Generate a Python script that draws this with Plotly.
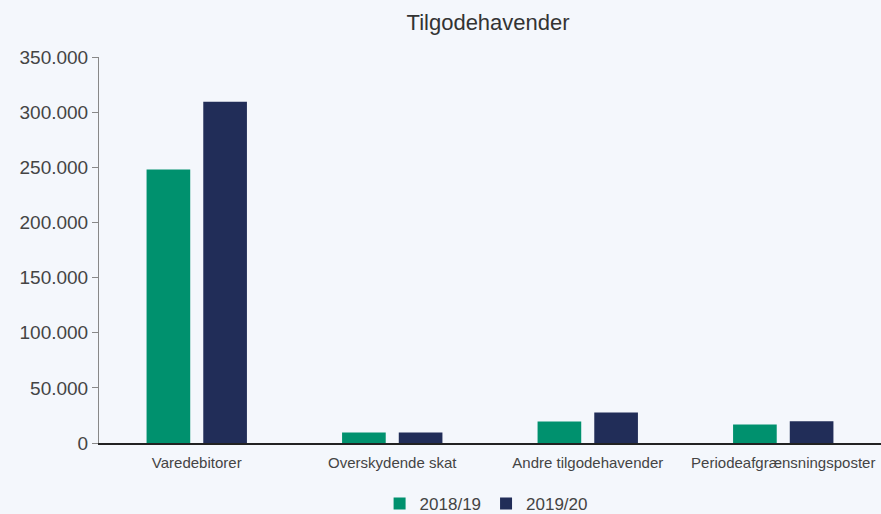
import plotly.graph_objects as go

categories = ["Varedebitorer", "Overskydende skat", "Andre tilgodehavender", "Periodeafgrænsningsposter"]
series_names = ["2018/19", "2019/20"]
values_2018_19 = [248000, 9600, 19500, 16800]
values_2019_20 = [309500, 9600, 27700, 19800]
y_ticks = [0, 50000, 100000, 150000, 200000, 250000, 300000, 350000]

colors = ["#00916E", "#212D58"]
font = "Liberation Sans, Arial, sans-serif"

fig = go.Figure()
for name, vals, c in zip(series_names, [values_2018_19, values_2019_20], colors):
    fig.add_trace(go.Bar(x=categories, y=vals, name=name, marker=dict(color=c, line=dict(width=0))))

fig.update_layout(
    width=881, height=514,
    paper_bgcolor="#F4F7FC", plot_bgcolor="#F4F7FC",
    margin=dict(l=99, r=0, t=57, b=71, autoexpand=False),
    separators=",.",
    barmode="group", bargap=0.42, bargroupgap=0.23,
    title=dict(text="Tilgodehavender", x=0.554, xanchor="center", y=0.957, yanchor="middle",
               font=dict(family=font, size=22, color="#333333")),
    font=dict(family=font, color="#444444"),
    showlegend=True,
    legend=dict(orientation="h", x=0.495, xanchor="center", y=-0.158, yanchor="middle",
                font=dict(size=17, color="#444444"), itemwidth=30, bgcolor="rgba(0,0,0,0)"),
    xaxis=dict(showgrid=False, showline=True, linecolor="#222222", linewidth=1.5,
               ticks="", ticklabelstandoff=5, tickfont=dict(size=15, color="#444444"), zeroline=False),
    yaxis=dict(range=[0, 350000], tickvals=y_ticks, tickformat=",d", showgrid=False,
               showline=True, linecolor="#888888", linewidth=1, ticks="outside", ticklen=6,
               tickcolor="#888888", tickfont=dict(size=19, color="#444444"), zeroline=False),
)

fig.write_html("out.html", config={"displayModeBar": False},
               post_script="document.body.style.margin='0';")
